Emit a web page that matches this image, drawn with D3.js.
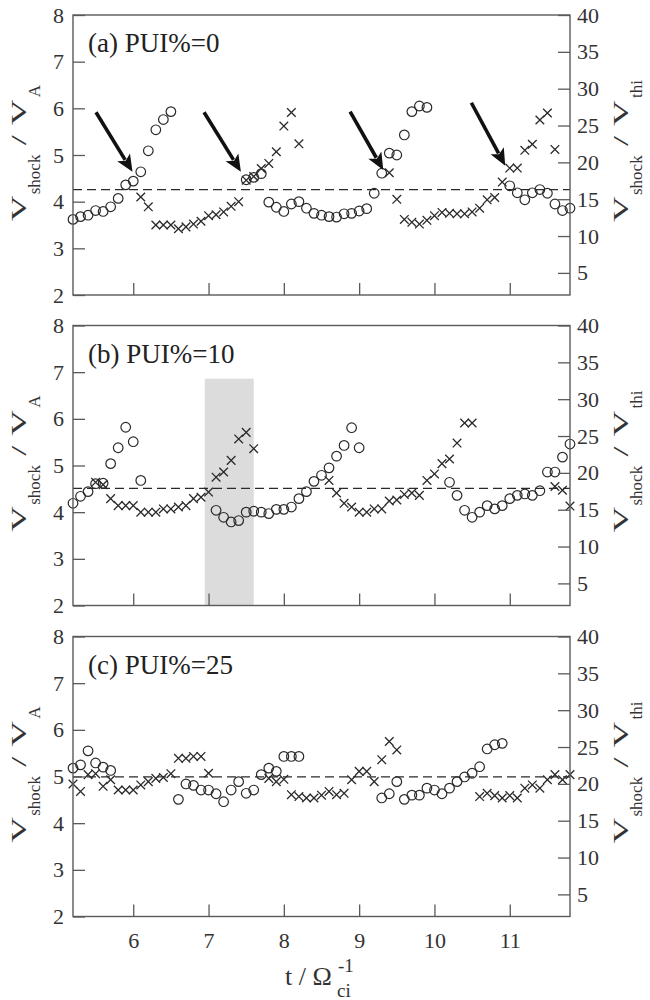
<!DOCTYPE html>
<html><head><meta charset="utf-8">
<script src="https://cdn.jsdelivr.net/npm/d3@7"></script>
<style>body{margin:0;background:#fff}</style>
</head><body><svg id="c" width="650" height="1000"></svg>
<script>
// ---------- data ----------
const panelTitles = ["(a) PUI%=0", "(b) PUI%=10", "(c) PUI%=25"];
const xDomain = [5.2, 11.8];
const xTicks = [6, 7, 8, 9, 10, 11];
const yLeftDomain = [2, 8];
const yLeftTicks = [2, 3, 4, 5, 6, 7, 8];
const yRightDomain = [2, 40];
const yRightTicks = [5, 10, 15, 20, 25, 30, 35, 40];
const refLines = [4.26, 4.51, 4.99];

const aCircT = [5.2,5.3,5.4,5.5,5.6,5.7,5.8,5.9,6.0,6.1,6.2,6.3,6.4,6.5,7.5,7.6,7.7,7.8,7.9,8.0,8.1,8.2,8.3,8.4,8.5,8.6,8.7,8.8,8.9,9.0,9.1,9.2,9.3,9.4,9.5,9.6,9.7,9.8,9.9,11.0,11.1,11.2,11.3,11.4,11.5,11.6,11.7,11.8];
const aCircV = [3.62,3.68,3.71,3.81,3.79,3.89,4.07,4.36,4.44,4.64,5.09,5.54,5.76,5.93,4.47,4.52,4.6,3.99,3.88,3.79,3.95,4.0,3.86,3.75,3.71,3.68,3.67,3.74,3.75,3.8,3.85,4.18,4.61,5.04,5.0,5.43,5.93,6.05,6.02,4.34,4.19,4.04,4.19,4.26,4.18,3.95,3.81,3.86];
const aCrossT = [6.1,6.2,6.3,6.4,6.5,6.6,6.7,6.8,6.9,7.0,7.1,7.2,7.3,7.4,7.5,7.6,7.7,7.8,7.9,8.0,8.1,8.2,9.4,9.5,9.6,9.7,9.8,9.9,10.0,10.1,10.2,10.3,10.4,10.5,10.6,10.7,10.8,10.9,11.0,11.1,11.2,11.3,11.4,11.5,11.6];
const aCrossV = [4.10,3.89,3.50,3.50,3.50,3.42,3.46,3.52,3.58,3.70,3.72,3.78,3.90,4.00,4.46,4.54,4.71,4.82,5.07,5.62,5.91,5.24,4.62,4.05,3.62,3.56,3.52,3.6,3.7,3.77,3.75,3.74,3.74,3.78,3.86,4.04,4.09,4.42,4.72,4.72,5.1,5.23,5.75,5.9,5.12];

const bCircT = [5.2,5.3,5.4,5.5,5.6,5.7,5.8,5.9,6.0,6.1,7.1,7.2,7.3,7.4,7.5,7.6,7.7,7.8,7.9,8.0,8.1,8.2,8.3,8.4,8.5,8.6,8.7,8.8,8.9,9.0,10.2,10.3,10.4,10.5,10.6,10.7,10.8,10.9,11.0,11.1,11.2,11.3,11.4,11.5,11.6,11.7,11.8];
const bCircV = [4.19,4.34,4.44,4.61,4.62,5.04,5.38,5.82,5.51,4.68,4.04,3.89,3.79,3.82,4.0,4.02,4.0,3.97,4.06,4.06,4.11,4.29,4.44,4.66,4.79,4.95,5.2,5.43,5.81,5.38,4.64,4.36,4.04,3.89,4.0,4.14,4.07,4.14,4.29,4.36,4.39,4.36,4.46,4.86,4.86,5.18,5.46];
const bCrossT = [5.5,5.6,5.7,5.8,5.9,6.0,6.1,6.2,6.3,6.4,6.5,6.6,6.7,6.8,6.9,7.0,7.1,7.2,7.3,7.4,7.5,7.6,8.6,8.7,8.8,8.9,9.0,9.1,9.2,9.3,9.4,9.5,9.6,9.7,9.8,9.9,10.0,10.1,10.2,10.3,10.4,10.5,11.6,11.7,11.8];
const bCrossV = [4.64,4.59,4.29,4.14,4.14,4.14,4.0,4.0,4.0,4.07,4.07,4.11,4.14,4.29,4.32,4.43,4.75,4.86,5.11,5.57,5.71,5.36,4.68,4.41,4.19,4.11,4.0,4.0,4.07,4.07,4.24,4.26,4.38,4.41,4.36,4.68,4.82,5.04,5.14,5.48,5.91,5.91,4.55,4.47,4.13];

const cCircT = [5.2,5.3,5.4,5.5,5.6,5.7,6.6,6.7,6.8,6.9,7.0,7.1,7.2,7.3,7.4,7.5,7.6,7.7,7.8,7.9,8.0,8.1,8.2,9.3,9.4,9.5,9.6,9.7,9.8,9.9,10.0,10.1,10.2,10.3,10.4,10.5,10.6,10.7,10.8,10.9];
const cCircV = [5.18,5.25,5.55,5.29,5.2,5.13,4.51,4.84,4.81,4.71,4.71,4.63,4.46,4.71,4.89,4.64,4.71,5.04,5.18,5.11,5.43,5.43,5.43,4.54,4.63,4.89,4.51,4.6,4.6,4.75,4.71,4.63,4.75,4.89,4.99,5.07,5.21,5.59,5.68,5.71];
const cCrossT = [5.2,5.3,5.4,5.5,5.6,5.7,5.8,5.9,6.0,6.1,6.2,6.3,6.4,6.5,6.6,6.7,6.8,6.9,7.0,7.8,7.9,8.0,8.1,8.2,8.3,8.4,8.5,8.6,8.7,8.8,8.9,9.0,9.1,9.2,9.3,9.4,9.5,10.6,10.7,10.8,10.9,11.0,11.1,11.2,11.3,11.4,11.5,11.6,11.7,11.8];
const cCrossV = [4.84,4.68,5.04,5.06,4.79,4.93,4.71,4.71,4.71,4.82,4.89,4.96,4.98,5.06,5.39,5.39,5.43,5.43,5.07,4.96,4.89,4.94,4.61,4.57,4.54,4.54,4.6,4.68,4.61,4.64,4.93,5.11,5.11,4.89,5.36,5.75,5.57,4.57,4.64,4.59,4.54,4.59,4.54,4.75,4.82,4.75,4.93,5.04,4.93,5.04];

// arrows in panel (a): tail (t0,v0) -> tip (t1,v1)
const arrowT0 = [5.505, 6.94, 8.88, 10.49];
const arrowV0 = [5.915, 5.915, 5.93, 6.12];
const arrowT1 = [5.99, 7.43, 9.32, 10.94];
const arrowV1 = [4.64, 4.64, 4.68, 4.77];
// shaded band in panel (b)
const shadeT = [6.95, 7.6];
const shadeV = [2, 6.86];

// ---------- layout ----------
const W = 650, H = 1000;
const L = 73, R = 570, PH = 280;
const panelTop = [15, 325.5, 636.5];
const FONT = "Liberation Serif, DejaVu Serif, Noto Serif, Times New Roman, serif";
const INK = "#2a2a2a", FRAME = "#5a5a5a", TXT = "#333";

const svg = d3.select("#c");
svg.append("rect").attr("width", W).attr("height", H).attr("fill", "#fff");
const x = d3.scaleLinear().domain(xDomain).range([L, R]);

const panels = [
  {circT: aCircT, circV: aCircV, crossT: aCrossT, crossV: aCrossV},
  {circT: bCircT, circV: bCircV, crossT: bCrossT, crossV: bCrossV},
  {circT: cCircT, circV: cCircV, crossT: cCrossT, crossV: cCrossV}
];

function rotLabel(g, cx, cy, subText) {
  const gg = g.append("g").attr("transform", `translate(${cx},${cy}) rotate(-90)`);
  const mainFs = 21, subFs = 17, sx = 1.7, subDy = 14;
  const pieces = [
    {t: "V", off: 0, main: true},
    {t: "shock", off: 27, main: false},
    {t: "/", off: 76, main: true},
    {t: "V", off: 96, main: true},
    {t: subText, off: 124, main: false}
  ];
  const total = 124 + (subText === "A" ? 12.5 : 18);
  pieces.forEach(p => {
    const px = p.off - total / 2;
    const t = gg.append("text")
      .style("font-family", FONT).attr("fill", TXT)
      .attr("font-size", p.main ? mainFs : subFs)
      .text(p.t);
    if (p.main) t.attr("transform", `translate(${px},0) scale(${sx},1)`);
    else t.attr("transform", `translate(${px},${subDy})`);
  });
}

panels.forEach((p, i) => {
  const top = panelTop[i], bot = top + PH;
  const y = d3.scaleLinear().domain(yLeftDomain).range([bot, top]);
  const y2 = d3.scaleLinear().domain(yRightDomain).range([bot, top]);
  const g = svg.append("g");

  if (i === 1) {
    g.append("rect")
      .attr("x", x(shadeT[0])).attr("width", x(shadeT[1]) - x(shadeT[0]))
      .attr("y", y(shadeV[1])).attr("height", y(shadeV[0]) - y(shadeV[1]))
      .attr("fill", "#dcdcdc");
  }

  g.append("line")
    .attr("x1", L).attr("x2", R).attr("y1", y(refLines[i])).attr("y2", y(refLines[i]))
    .attr("stroke", INK).attr("stroke-width", 1.2).attr("stroke-dasharray", "9,5");

  const circ = p.circT.map((t, k) => [t, p.circV[k]]);
  g.selectAll("circle.c").data(circ).join("circle")
    .attr("cx", d => x(d[0])).attr("cy", d => y(d[1])).attr("r", 4.8)
    .attr("fill", "none").attr("stroke", INK).attr("stroke-width", 1.2);

  const cross = p.crossT.map((t, k) => [t, p.crossV[k]]);
  const s = 4.3;
  g.selectAll("path.x").data(cross).join("path")
    .attr("d", d => {
      const cx = x(d[0]), cy = y(d[1]);
      return `M${cx - s},${cy - s}L${cx + s},${cy + s}M${cx - s},${cy + s}L${cx + s},${cy - s}`;
    })
    .attr("fill", "none").attr("stroke", INK).attr("stroke-width", 1.3);

  if (i === 0) {
    arrowT0.forEach((t0, k) => {
      const x0 = x(t0), y0 = y(arrowV0[k]);
      const x1 = x(arrowT1[k]), y1 = y(arrowV1[k]);
      const dx = x1 - x0, dy = y1 - y0, len = Math.hypot(dx, dy);
      const ux = dx / len, uy = dy / len;
      const hl = 17, hw = 7.5;
      const bx = x1 - ux * hl, by = y1 - uy * hl;
      g.append("line").attr("x1", x0).attr("y1", y0)
        .attr("x2", bx + ux * 3).attr("y2", by + uy * 3)
        .attr("stroke", "#111").attr("stroke-width", 3.6);
      g.append("path")
        .attr("d", `M${x1},${y1}L${bx - uy * hw},${by + ux * hw}L${bx + ux * 4},${by + uy * 4}L${bx + uy * hw},${by - ux * hw}Z`)
        .attr("fill", "#111");
    });
  }

  g.append("rect").attr("x", L).attr("y", top).attr("width", R - L).attr("height", PH)
    .attr("fill", "none").attr("stroke", FRAME).attr("stroke-width", 1.4);

  const styleAxis = a => {
    a.attr("font-family", null).attr("font-size", null);
    a.select(".domain").remove();
    a.selectAll(".tick line").attr("stroke", FRAME).attr("stroke-width", 1.3);
    a.selectAll("text").style("font-family", FONT).style("font-size", "22px").attr("fill", TXT);
  };

  g.append("g").attr("transform", `translate(${L},0)`)
    .call(d3.axisLeft(y).tickValues(yLeftTicks).tickSize(-12).tickPadding(9).tickFormat(d3.format("d")))
    .call(styleAxis);
  g.append("g").attr("transform", `translate(${R},0)`)
    .call(d3.axisRight(y2).tickValues(yRightTicks).tickSize(-12).tickPadding(7).tickFormat(d3.format("d")))
    .call(styleAxis);
  g.append("g").attr("transform", `translate(0,${bot})`)
    .call(d3.axisBottom(x).tickValues(xTicks).tickSize(-12).tickPadding(16)
      .tickFormat(i === 2 ? d3.format("d") : () => ""))
    .call(styleAxis);

  g.append("text").attr("x", 88).attr("y", top + 37)
    .style("font-family", FONT).attr("font-size", 27).attr("fill", "#222")
    .text(panelTitles[i]);

  rotLabel(g, 26, top + PH / 2 - 2, "A");
  rotLabel(g, 628, top + PH / 2 - 4, "thi");
});

const xt = svg.append("g");
xt.append("text").attr("x", 285).attr("y", 985)
  .style("font-family", FONT).attr("font-size", 26).attr("fill", TXT).text("t / Ω");
xt.append("text").attr("x", 338).attr("y", 972)
  .style("font-family", FONT).attr("font-size", 19).attr("fill", TXT).text("-1");
xt.append("text").attr("x", 337).attr("y", 997)
  .style("font-family", FONT).attr("font-size", 19).attr("fill", TXT).text("ci");
</script></body></html>
